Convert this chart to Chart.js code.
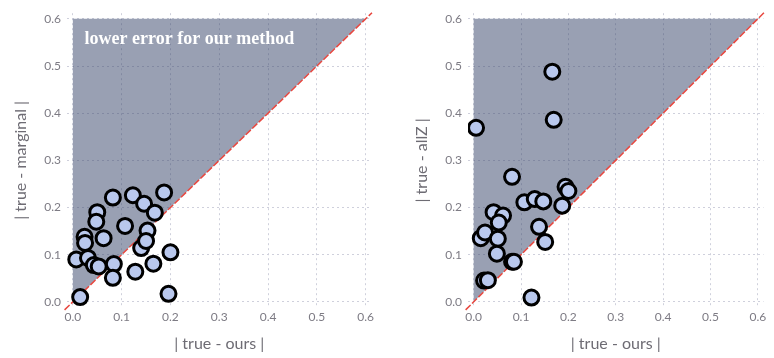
<!DOCTYPE html>
<html>
<head>
<meta charset="utf-8">
<script src="https://cdn.jsdelivr.net/npm/chart.js@4/dist/chart.umd.min.js"></script>
<style>
  html, body { margin: 0; padding: 0; background: #fff; }
  #wrap { display: flex; width: 774px; height: 358px; }
  canvas { display: block; }
</style>
</head>
<body>
<div id="wrap">
  <canvas id="c1" width="387" height="358"></canvas>
  <canvas id="c2" width="387" height="358"></canvas>
</div>
<script>
// ---- data ----
const tickValues = [0, 0.1, 0.2, 0.3, 0.4, 0.5, 0.6];
const xLabel = '| true - ours |';
const yLabelLeft = '| true - marginal |';
const yLabelRight = '| true - allZ |';
const annotationText = 'lower error for our method';

// left panel: |true - ours| vs |true - marginal|
const leftOurs = [0.015, 0.007, 0.024, 0.025, 0.031, 0.043, 0.053, 0.050, 0.048, 0.063,
                  0.082, 0.084, 0.082, 0.107, 0.123, 0.128, 0.146, 0.140, 0.153, 0.150,
                  0.168, 0.187, 0.165, 0.200, 0.196];
const leftMarginal = [0.010, 0.090, 0.138, 0.125, 0.093, 0.078, 0.075, 0.190, 0.170, 0.135,
                      0.221, 0.080, 0.051, 0.161, 0.226, 0.064, 0.208, 0.114, 0.151, 0.129,
                      0.189, 0.232, 0.081, 0.105, 0.017];

// right panel: |true - ours| vs |true - allZ|
const rightOurs = [0.166, 0.169, 0.005, 0.081, 0.194, 0.200, 0.107, 0.129, 0.147, 0.187,
                   0.042, 0.062, 0.053, 0.015, 0.024, 0.051, 0.138, 0.151, 0.049, 0.081,
                   0.085, 0.022, 0.030, 0.122];
const rightAllZ = [0.488, 0.386, 0.369, 0.265, 0.244, 0.235, 0.211, 0.218, 0.213, 0.204,
                   0.190, 0.183, 0.168, 0.135, 0.147, 0.134, 0.159, 0.127, 0.102, 0.085,
                   0.085, 0.045, 0.046, 0.009];

// region where the baseline error exceeds ours (triangle above diagonal)
const regionX = [0, 0, 0.6, 0];
const regionY = [0, 0.6, 0.6, 0];
// y = x reference line
const diagX = [-0.017, 0.613];
const diagY = [-0.017, 0.613];

const AX_MIN = -0.012, AX_MAX = 0.612;

function pts(xs, ys) { return xs.map((x, i) => ({ x: x, y: ys[i] })); }

const annotPlugin = {
  id: 'annot',
  afterDatasetsDraw(chart, args, opts) {
    if (!opts.text) return;
    const ctx = chart.ctx;
    const x = chart.scales.x.getPixelForValue(opts.x);
    const y = chart.scales.y.getPixelForValue(opts.y);
    ctx.save();
    ctx.fillStyle = '#ffffff';
    ctx.font = 'bold 18px "Liberation Serif", serif';
    ctx.textAlign = 'left';
    ctx.textBaseline = 'middle';
    ctx.fillText(opts.text, x, y);
    ctx.restore();
  }
};

function makeChart(id, xs, ys, yTitle, padLeft, padRight, annot) {
  const gridCfg = { color: '#cfd0dc', lineWidth: 1, drawTicks: false };
  const tickFont = { family: 'Lato, "Open Sans", sans-serif', size: 12 };
  const titleFont = { family: 'Lato, "Open Sans", sans-serif', size: 16 };
  return new Chart(document.getElementById(id), {
    type: 'scatter',
    data: {
      datasets: [
        {
          type: 'line',
          data: pts(regionX, regionY),
          fill: 'shape',
          backgroundColor: 'rgba(60,72,110,0.52)',
          borderWidth: 0,
          pointRadius: 0,
          tension: 0,
          order: 3
        },
        {
          type: 'line',
          data: pts(diagX, diagY),
          borderColor: '#e8473f',
          borderWidth: 1.5,
          borderDash: [7, 2],
          pointRadius: 0,
          fill: false,
          clip: false,
          order: 2
        },
        {
          data: pts(xs, ys),
          backgroundColor: '#b9c8ed',
          borderColor: '#000000',
          borderWidth: 3,
          pointRadius: 7.5,
          pointHoverRadius: 7.5,
          order: 1
        }
      ]
    },
    options: {
      responsive: false,
      animation: false,
      devicePixelRatio: 1,
      layout: { padding: { left: padLeft, right: padRight, top: 7, bottom: 0 } },
      plugins: {
        legend: { display: false },
        tooltip: { enabled: false },
        annot: annot
      },
      scales: {
        x: {
          type: 'linear',
          min: AX_MIN, max: AX_MAX,
          afterBuildTicks(s) { s.ticks = tickValues.map(v => ({ value: v })); },
          afterFit(s) { s.height = 50.5; },
          grid: gridCfg,
          border: { display: false, dash: [2, 3] },
          ticks: {
            padding: 2, color: '#7d7b84', font: tickFont,
            maxRotation: 0, autoSkip: false,
            callback: v => Number(v).toFixed(1)
          },
          title: { display: true, text: xLabel, color: '#6e6c74', font: titleFont,
                   padding: { top: 0, bottom: 5 } }
        },
        y: {
          type: 'linear',
          min: AX_MIN, max: AX_MAX,
          afterBuildTicks(s) { s.ticks = tickValues.map(v => ({ value: v })); },
          afterFit(s) { s.width = 67; },
          grid: gridCfg,
          border: { display: false, dash: [2, 3] },
          ticks: {
            padding: 6, color: '#7d7b84', font: tickFont, autoSkip: false,
            callback: v => Number(v).toFixed(1)
          },
          title: { display: true, text: yTitle, color: '#6e6c74', font: titleFont,
                   padding: { top: 11, bottom: 0 } }
        }
      }
    },
    plugins: [annotPlugin]
  });
}

const c1 = makeChart('c1', leftOurs, leftMarginal, yLabelLeft, 0, 15.5,
  { text: annotationText, x: 0.024, y: 0.557 });
const c2 = makeChart('c2', rightOurs, rightAllZ, yLabelRight, 14, 2,
  { text: '' });
</script>
</body>
</html>
